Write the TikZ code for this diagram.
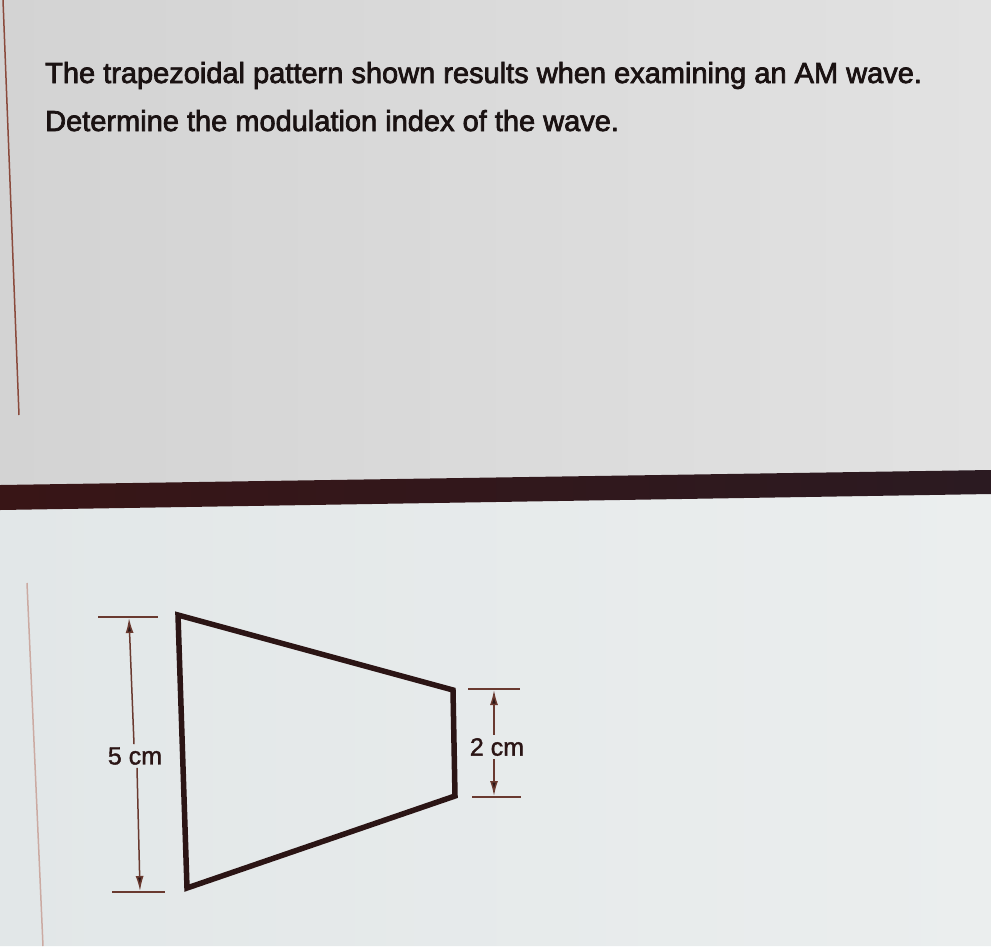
\documentclass[tikz,border=0pt]{standalone}
\usepackage{fontspec}
\setmainfont{Liberation Sans}
\newfontfamily\headfont[FakeBold=2.5]{Liberation Sans}
\newfontfamily\dimfont[FakeBold=1.5]{Liberation Sans}
\usetikzlibrary{arrows.meta}
\definecolor{toppanelL}{HTML}{D3D3D3}
\definecolor{toppanelR}{HTML}{E2E2E2}
\definecolor{botpanelL}{HTML}{E2E7E8}
\definecolor{botpanelR}{HTML}{EBEEEE}
\definecolor{barL}{HTML}{381516}
\definecolor{barR}{HTML}{2B1A21}
\definecolor{inkdark}{HTML}{1A1212}
\definecolor{shapeink}{HTML}{2B1515}
\definecolor{dimink}{HTML}{6A3A30}
\definecolor{edgeline}{HTML}{8A4A3C}
\definecolor{paleline}{HTML}{CBAAA2}
\tikzset{
  headtext/.style={anchor=base west, inner sep=0pt, text=inkdark, font=\headfont\fontsize{29}{29}\selectfont},
  dimlabel/.style={inner sep=3pt, text=shapeink, font=\dimfont\fontsize{25}{25}\selectfont},
  dimtick/.style={draw=dimink, line width=1.5pt},
  dimarrow/.style={draw=dimink, line width=1.5pt, -{Latex[length=15pt,width=8pt,fill=shapeink]}},
  trapez/.style={draw=shapeink, line width=5.5pt, line join=miter},
}
\begin{document}
\begin{tikzpicture}[x=1pt,y=-1pt]
\useasboundingbox (0,0) rectangle (991,946);
% backgrounds
\shade[left color=toppanelL, right color=toppanelR] (0,0) -- (991,0) -- (991,472) -- (0,487) -- cycle;
\shade[left color=botpanelL, right color=botpanelR] (0,508) -- (991,492) -- (991,946) -- (0,946) -- cycle;
\shade[left color=barL, right color=barR] (0,485) -- (991,470) -- (991,494) -- (0,510) -- cycle;
% page edge lines
\draw[edgeline, line width=1.5pt] (3,0) -- (19,415);
\draw[paleline, line width=1.5pt] (27,583) -- (43,946);
% question text
\node[headtext] (q1) at (45,83) {The trapezoidal pattern shown results when examining an AM wave.};
\node[headtext] (q2) at (45,131) {Determine the modulation index of the wave.};
% trapezoid
\coordinate (tl) at (178,615);
\coordinate (tr) at (453,690);
\coordinate (br) at (455,796);
\coordinate (bl) at (187,888);
\draw[trapez] (tl) -- (tr) -- (br) -- (bl) -- cycle;
% left dimension
\coordinate (lta) at (98,617);
\coordinate (ltb) at (158,617);
\coordinate (lba) at (112,892);
\coordinate (lbb) at (165,892);
\coordinate (lt) at (129,618);
\coordinate (lb) at (140,891);
\draw[dimtick] (lta) -- (ltb);
\draw[dimtick] (lba) -- (lbb);
\node[dimlabel] (l5) at (135,756) {5 cm};
\draw[dimarrow] ([xshift=-1pt]l5.north) -- (lt);
\draw[dimarrow] ([xshift=2pt]l5.south) -- (lb);
% right dimension
\coordinate (rta) at (468,689);
\coordinate (rtb) at (520,689);
\coordinate (rba) at (472,797);
\coordinate (rbb) at (521,797);
\coordinate (rt) at (494,690);
\coordinate (rb) at (494,796);
\draw[dimtick] (rta) -- (rtb);
\draw[dimtick] (rba) -- (rbb);
\node[dimlabel] (r2) at (497,747) {2 cm};
\draw[dimarrow] (rt |- r2.north) -- (rt);
\draw[dimarrow] (rb |- r2.south) -- (rb);
\end{tikzpicture}
\end{document}
